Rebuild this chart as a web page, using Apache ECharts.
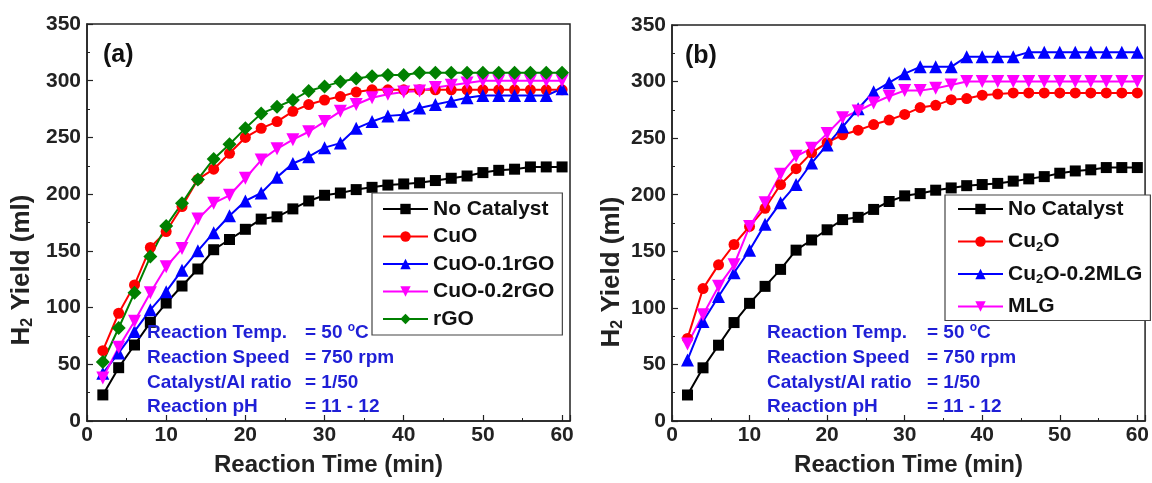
<!DOCTYPE html>
<html>
<head>
<meta charset="utf-8">
<script src="https://cdn.jsdelivr.net/npm/echarts@6/dist/echarts.min.js"></script>
<style>
  html, body { margin: 0; padding: 0; background: #fff; }
  #chart { width: 1152px; height: 483px; }
</style>
</head>
<body>
<div id="chart"></div>
<script>
// Reaction time (min)
const time = [2, 4, 6, 8, 10, 12, 14, 16, 18, 20, 22, 24, 26, 28, 30,
              32, 34, 36, 38, 40, 42, 44, 46, 48, 50, 52, 54, 56, 58, 60];

// Panel (a): H2 yield (ml)
const noCatalyst = [23, 47, 67, 87, 104, 119, 134, 151, 160, 169, 178, 180, 187, 194, 199,
                    201, 204, 206, 208, 209, 210, 212, 214, 216, 219, 221, 222, 224, 224, 224];
const cuo = [62, 95, 120, 153, 167, 189, 213, 222, 236, 250, 258, 264, 273, 279, 283,
             286, 290, 292, 292, 292, 292, 292, 292, 292, 292, 292, 292, 292, 292, 292];
const cuo01rGO = [42, 60, 79, 98, 114, 133, 150, 166, 181, 194, 201, 215, 227, 233, 241,
                  245, 258, 264, 269, 270, 276, 279, 282, 285, 287, 287, 287, 287, 287, 293];
const cuo02rGO = [38, 65, 88, 113, 136, 152, 178, 192, 199, 214, 230, 240, 248, 255, 264,
                  273, 279, 285, 288, 290, 291, 294, 296, 298, 300, 300, 300, 300, 300, 300];
const rgo = [52, 82, 113, 145, 172, 192, 213, 231, 244, 258, 271, 277, 283, 291, 295,
             299, 302, 304, 305, 305, 307, 307, 307, 307, 307, 307, 307, 307, 307, 307];

// Panel (b): H2 yield (ml)
const cu2o = [73, 117, 138, 156, 172, 188, 209, 223, 237, 246, 253, 257, 262, 266, 271,
              277, 279, 284, 285, 288, 289, 290, 290, 290, 290, 290, 290, 290, 290, 290];
const cu2oMLG = [54, 88, 110, 131, 151, 174, 193, 209, 228, 244, 260, 276, 291, 299, 307,
                 313, 313, 313, 322, 322, 322, 322, 326, 326, 326, 326, 326, 326, 326, 326];
const mlg = [68, 94, 119, 138, 172, 193, 218, 234, 241, 254, 268, 274, 281, 287, 292,
             292, 294, 297, 300, 300, 300, 300, 300, 300, 300, 300, 300, 300, 300, 300];

// Series names
const namesA = ['No Catalyst', 'CuO', 'CuO-0.1rGO', 'CuO-0.2rGO', 'rGO'];
const namesB = ['No Catalyst (b)', 'Cu2O', 'Cu2O-0.2MLG', 'MLG'];

// Condition notes
const condLabels = ['Reaction Temp.', 'Reaction Speed', 'Catalyst/Al ratio', 'Reaction pH'];
const condValues = ['{v|= 50 }{sup|o}{v|C}', '{v|= 750 rpm}', '{v|= 1/50}', '{v|= 11 - 12}'];

const FONT = 'Liberation Sans, Arial, sans-serif';
const AXIS_COLOR = '#222';

function pairs(ys) { return time.map((t, i) => [t, ys[i]]); }

const styles = [
  { color: '#000000', symbol: 'rect', size: 11, rotate: 0 },
  { color: '#ff0000', symbol: 'circle', size: 11, rotate: 0 },
  { color: '#0000ff', symbol: 'triangle', size: 13, rotate: 0 },
  { color: '#ff00ff', symbol: 'triangle', size: 13, rotate: 180 },
  { color: '#008000', symbol: 'diamond', size: 14, rotate: 0 }
];

function makeSeries(name, data, st, idx) {
  return {
    name: name,
    type: 'line',
    xAxisIndex: idx,
    yAxisIndex: idx,
    data: pairs(data),
    symbol: st.symbol,
    symbolSize: st.size,
    symbolRotate: st.rotate,
    showAllSymbol: true,
    itemStyle: { color: st.color },
    lineStyle: { color: st.color, width: 2 },
    emphasis: { disabled: true }
  };
}

function xAxis(idx) {
  return {
    gridIndex: idx, type: 'value', min: 0, max: 61, interval: 10,
    name: 'Reaction Time (min)', nameLocation: 'middle', nameGap: 32,
    nameTextStyle: { fontFamily: FONT, fontWeight: 'bold', fontSize: 24, color: AXIS_COLOR },
    axisLine: { show: true, onZero: false, lineStyle: { color: AXIS_COLOR, width: 1.5 } },
    axisTick: { show: true, inside: true, length: 6, lineStyle: { color: AXIS_COLOR, width: 1.2 } },
    minorTick: { show: true, splitNumber: 2, length: 3, lineStyle: { color: AXIS_COLOR, width: 1 } },
    axisLabel: {
      margin: 4, fontFamily: FONT, fontWeight: 'bold', fontSize: 21, color: AXIS_COLOR,
      formatter: v => (v % 10 === 0 ? String(v) : '')
    },
    splitLine: { show: false }
  };
}

function yAxis(idx) {
  return {
    gridIndex: idx, type: 'value', min: 0, max: 350, interval: 50,
    axisLine: { show: true, lineStyle: { color: AXIS_COLOR, width: 1.5 } },
    axisTick: { show: true, inside: true, length: 6, lineStyle: { color: AXIS_COLOR, width: 1.2 } },
    minorTick: { show: true, splitNumber: 2, length: 3, lineStyle: { color: AXIS_COLOR, width: 1 } },
    axisLabel: { margin: 6, fontFamily: FONT, fontWeight: 'bold', fontSize: 21, color: AXIS_COLOR },
    splitLine: { show: false }
  };
}

const legendText = {
  fontFamily: FONT, fontWeight: 'bold', fontSize: 21, color: '#111', lineHeight: 24,
  rich: {
    n: { fontFamily: FONT, fontWeight: 'bold', fontSize: 21, color: '#111', lineHeight: 24 },
    s: { fontFamily: FONT, fontWeight: 'bold', fontSize: 13, color: '#111', lineHeight: 13, verticalAlign: 'bottom' }
  }
};

function legendLabel(name) {
  if (name === 'No Catalyst (b)') return '{n|No Catalyst}';
  if (name.indexOf('Cu2O') === 0) return '{n|Cu}{s|2}{n|' + name.slice(3) + '}';
  return '{n|' + name + '}';
}

function yTitle(cx, cy) {
  return {
    type: 'text', x: cx, y: cy, rotation: Math.PI / 2, z: 10,
    style: {
      text: '{n|H}{s|2}{n| Yield (ml)}',
      align: 'center', verticalAlign: 'middle',
      rich: {
        n: { fontFamily: FONT, fontWeight: 'bold', fontSize: 26, fill: AXIS_COLOR, lineHeight: 28 },
        s: { fontFamily: FONT, fontWeight: 'bold', fontSize: 16, fill: AXIS_COLOR, lineHeight: 16, verticalAlign: 'bottom' }
      }
    }
  };
}

function panelTag(text, x, y) {
  return {
    type: 'text', x: x, y: y, z: 10,
    style: { text: text, fontFamily: FONT, fontWeight: 'bold', fontSize: 25, fill: '#111',
             align: 'left', verticalAlign: 'middle' }
  };
}

function condBlock(xLabel, xValue, yStart, step) {
  const out = [];
  condLabels.forEach((lab, i) => {
    out.push({
      type: 'text', x: xLabel, y: yStart + i * step, z: 20,
      style: { text: lab, fontFamily: FONT, fontWeight: 'bold', fontSize: 19, fill: '#1f1fd6',
               align: 'left', verticalAlign: 'middle' }
    });
    out.push({
      type: 'text', x: xValue, y: yStart + i * step, z: 20,
      style: {
        text: condValues[i], align: 'left', verticalAlign: 'middle',
        rich: {
          v: { fontFamily: FONT, fontWeight: 'bold', fontSize: 19, fill: '#1f1fd6', lineHeight: 22 },
          sup: { fontFamily: FONT, fontWeight: 'bold', fontSize: 12, fill: '#1f1fd6', lineHeight: 12, verticalAlign: 'top' }
        }
      }
    });
  });
  return out;
}

const seriesA = [noCatalyst, cuo, cuo01rGO, cuo02rGO, rgo].map((d, i) => makeSeries(namesA[i], d, styles[i], 0));
const seriesB = [noCatalyst, cu2o, cu2oMLG, mlg].map((d, i) => makeSeries(namesB[i], d, styles[i], 1));

const chart = echarts.init(document.getElementById('chart'), null, { renderer: 'canvas' });
chart.setOption({
  animation: false,
  backgroundColor: '#fff',
  grid: [
    { left: 87, top: 24, width: 483, height: 397, show: true, borderColor: AXIS_COLOR, borderWidth: 1.5, backgroundColor: 'transparent' },
    { left: 672, top: 25, width: 477, height: 396, show: true, borderColor: AXIS_COLOR, borderWidth: 1.5, backgroundColor: 'transparent' }
  ],
  xAxis: [xAxis(0), xAxis(1)],
  yAxis: [yAxis(0), yAxis(1)],
  legend: [
    {
      data: namesA, orient: 'vertical', left: 372, top: 193,
      itemWidth: 45, itemHeight: 13, itemGap: 3.5,
      padding: [4, 8, 4, 10], borderColor: '#444', borderWidth: 1.2, backgroundColor: '#fff',
      selectedMode: false, formatter: legendLabel, textStyle: legendText
    },
    {
      data: namesB, orient: 'vertical', left: 945, top: 195,
      itemWidth: 45, itemHeight: 13, itemGap: 8.5,
      padding: [2, 8, 2, 12], borderColor: '#444', borderWidth: 1.2, backgroundColor: '#fff',
      selectedMode: false, formatter: legendLabel, textStyle: legendText
    }
  ],
  graphic: [
    yTitle(22, 270),
    yTitle(612, 272),
    panelTag('(a)', 103, 55),
    panelTag('(b)', 685, 56)
  ].concat(condBlock(147, 305, 333, 24.7), condBlock(767, 927, 333, 24.7)),
  series: seriesA.concat(seriesB)
});
</script>
</body>
</html>
